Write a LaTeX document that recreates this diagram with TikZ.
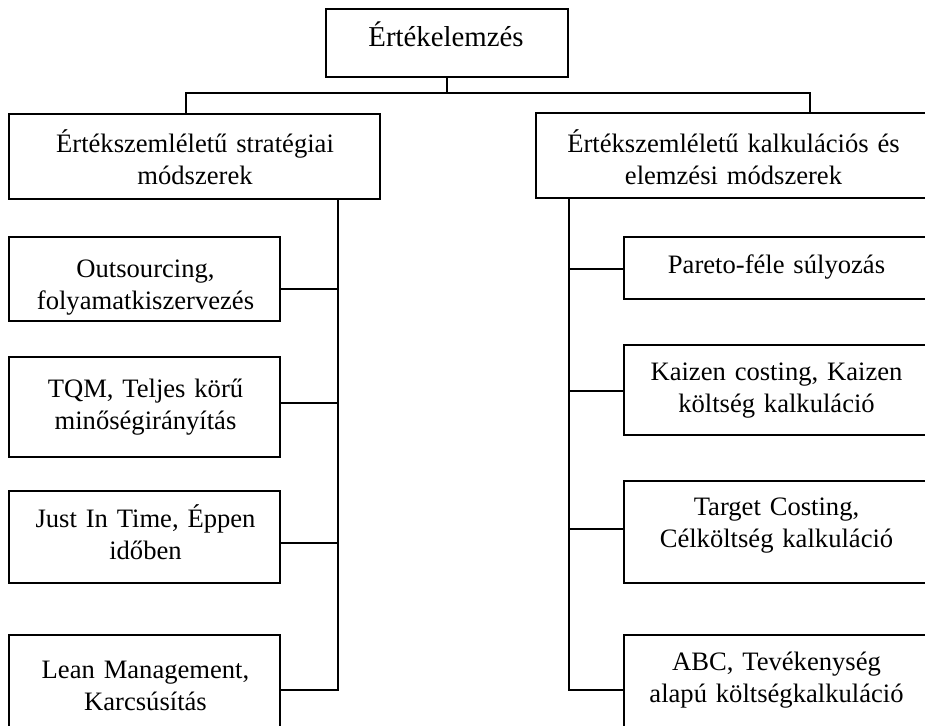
\documentclass[tikz,border=0pt]{standalone}
\usepackage{fontspec}
\setmainfont{Liberation Serif}
\begin{document}
\begin{tikzpicture}[x=1pt,y=-1pt,
  box/.style={draw=black, line width=1.5pt, rectangle, inner sep=0pt},
  txt/.style={inner sep=0pt, anchor=base, align=center, text width=#1,
    font=\fontsize{26.6}{32.5}\selectfont},
  link/.style={draw=black, line width=1.5pt}]
\useasboundingbox (0,0) rectangle (925,725);
\clip (0,0) rectangle (925,725);
\fill[white] (0,0) rectangle (925,725);

% root
\node[box, minimum width=242pt, minimum height=68pt] (root) at (447,43) {};
\node[txt=232pt, font=\fontsize{28.8}{34}\selectfont] (rootT) at (446,47) {Értékelemzés};

% second level
\node[box, minimum width=371pt, minimum height=85pt] (L) at (194.5,156.5) {};
\node[txt=360pt] (LT) at (195,152) {Értékszemléletű stratégiai\\módszerek};
\node[box, minimum width=395pt, minimum height=85pt] (R) at (733.5,155.5) {};
\node[txt=385pt] (RT) at (733.5,152) {Értékszemléletű kalkulációs és\\elemzési módszerek};

% left column
\node[box, minimum width=271pt, minimum height=84pt] (L1) at (144.5,279) {};
\node[txt=261pt] (L1T) at (145.5,277) {Outsourcing,\\folyamatkiszervezés};
\node[box, minimum width=271pt, minimum height=100pt] (L2) at (144.5,407) {};
\node[txt=261pt] (L2T) at (145.5,397) {TQM, Teljes körű\\minőségirányítás};
\node[box, minimum width=271pt, minimum height=92pt] (L3) at (144.5,537) {};
\node[txt=261pt] (L3T) at (145.5,527) {Just In Time, Éppen\\időben};
\node[box, minimum width=271pt, minimum height=93pt] (L4) at (144.5,681.5) {};
\node[txt=261pt] (L4T) at (145.5,678) {Lean Management,\\Karcsúsítás};

% right column
\node[box, minimum width=305pt, minimum height=62pt] (R1) at (776.5,268) {};
\node[txt=295pt] (R1T) at (776.5,273) {Pareto-féle súlyozás};
\node[box, minimum width=305pt, minimum height=90pt] (R2) at (776.5,390) {};
\node[txt=295pt] (R2T) at (776.5,380) {Kaizen costing, Kaizen\\költség kalkuláció};
\node[box, minimum width=305pt, minimum height=102pt] (R3) at (776.5,532) {};
\node[txt=295pt] (R3T) at (776.5,515) {Target Costing,\\Célköltség kalkuláció};
\node[box, minimum width=305pt, minimum height=93pt] (R4) at (776.5,681.5) {};
\node[txt=295pt] (R4T) at (776.5,670) {ABC, Tevékenység\\alapú költségkalkuláció};

% junction points
\coordinate (hl) at (186,93);
\coordinate (hr) at (810,93);
\coordinate (lj1) at (338,289);
\coordinate (lj2) at (338,403);
\coordinate (lj3) at (338,543);
\coordinate (lj4) at (338,690);
\coordinate (rj1) at (569,269);
\coordinate (rj2) at (569,391);
\coordinate (rj3) at (569,529);
\coordinate (rj4) at (569,690);

% top bracket
\draw[link] (root.south) -- (root.south |- hl);
\draw[link] (L.north -| hl) -- (hl) -- (hr) -- (R.north -| hr);

% left trunk and branches
\draw[link] (L.south -| lj4) -- (lj4) -- (L4.east |- lj4);
\draw[link] (L1.east |- lj1) -- (lj1);
\draw[link] (L2.east |- lj2) -- (lj2);
\draw[link] (L3.east |- lj3) -- (lj3);

% right trunk and branches
\draw[link] (R.south -| rj4) -- (rj4) -- (R4.west |- rj4);
\draw[link] (R1.west |- rj1) -- (rj1);
\draw[link] (R2.west |- rj2) -- (rj2);
\draw[link] (R3.west |- rj3) -- (rj3);
\end{tikzpicture}
\end{document}
